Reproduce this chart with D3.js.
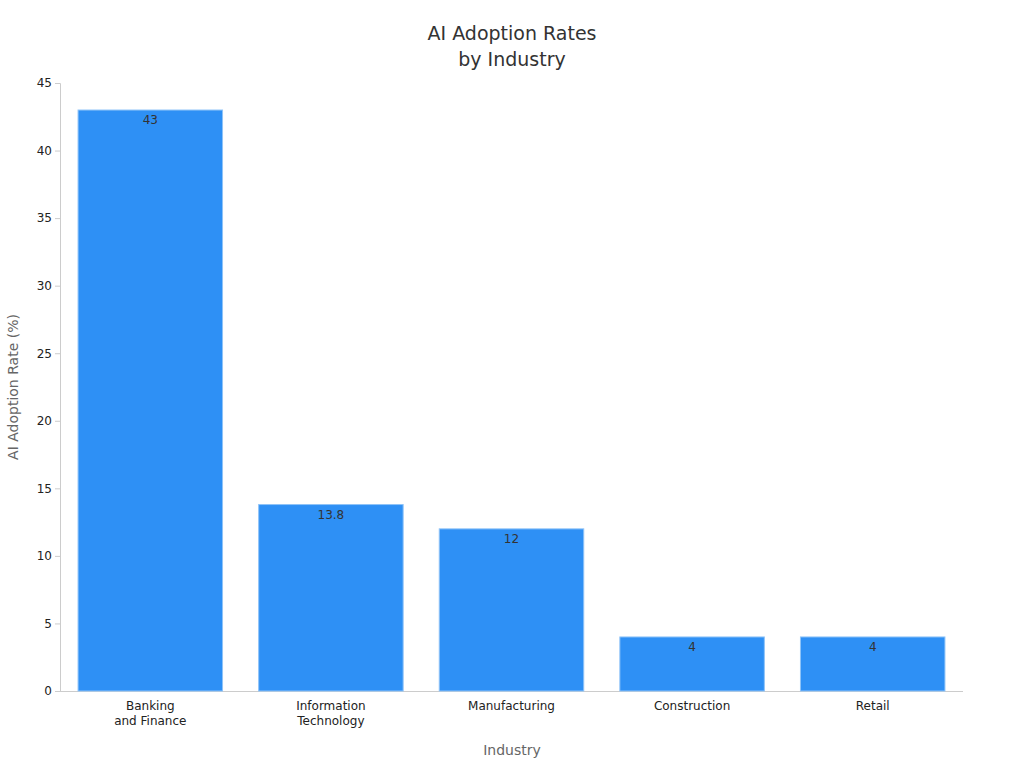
<!DOCTYPE html>
<html><head><meta charset="utf-8">
<script src="https://cdn.jsdelivr.net/npm/d3@7"></script>
<style>body{margin:0;background:#fff;font-family:"DejaVu Sans",sans-serif}</style>
</head><body><svg id="c" width="1024" height="768"></svg>
<script>
const categories = ["Banking\nand Finance","Information\nTechnology","Manufacturing","Construction","Retail"];
const values = [43, 13.8, 12, 4, 4];
const yTicks = [0,5,10,15,20,25,30,35,40,45];

const svg = d3.select("#c");
const m = {l:60, r:963, t:83, b:691};
const x = d3.scaleBand().domain(categories).range([m.l, m.r]).paddingInner(0.2).paddingOuter(0.1);
const y = d3.scaleLinear().domain([0,45]).range([m.b, m.t]);

svg.append("text").attr("x",512).attr("y",40).attr("text-anchor","middle").attr("font-size",19).attr("fill","#333").text("AI Adoption Rates");
svg.append("text").attr("x",512).attr("y",66).attr("text-anchor","middle").attr("font-size",19).attr("fill","#333").text("by Industry");

const ya = svg.append("g").attr("transform",`translate(${m.l},0)`).call(d3.axisLeft(y).tickValues(yTicks).tickSize(5).tickPadding(3));
ya.selectAll("text").attr("font-size",12).attr("fill","#222").attr("font-family","DejaVu Sans");
ya.selectAll("line,path").attr("stroke","#ccc");

const xa = svg.append("g").attr("transform",`translate(0,${m.b})`).call(d3.axisBottom(x).tickSize(0).tickPadding(10));
xa.selectAll("path").attr("stroke","#ccc").attr("d",`M${m.l},0.5H${m.r}`);
xa.selectAll("text").each(function(d){
  const t=d3.select(this); t.text(null).attr("font-size",12).attr("fill","#222").attr("font-family","DejaVu Sans");
  d.split("\n").forEach((s,i)=>t.append("tspan").attr("x",0).attr("dy",i?"1.3em":"0.71em").text(s));
});

svg.selectAll("rect.bar").data(values).join("rect").attr("class","bar")
  .attr("x",(d,i)=>x(categories[i])).attr("width",x.bandwidth())
  .attr("y",d=>y(d)).attr("height",d=>y(0)-y(d))
  .attr("fill","#2e90f5").attr("stroke","#8ec3f8").attr("stroke-width",1);
svg.selectAll("text.val").data(values).join("text").attr("class","val")
  .attr("x",(d,i)=>x(categories[i])+x.bandwidth()/2).attr("y",d=>y(d)+14)
  .attr("text-anchor","middle").attr("font-size",12).attr("fill","#333").text(d=>d);

svg.append("text").attr("x",512).attr("y",755).attr("text-anchor","middle").attr("font-size",14).attr("fill","#666").text("Industry");
svg.append("text").attr("transform","translate(18,387) rotate(-90)").attr("text-anchor","middle").attr("font-size",14).attr("fill","#666").text("AI Adoption Rate (%)");
</script></body></html>
